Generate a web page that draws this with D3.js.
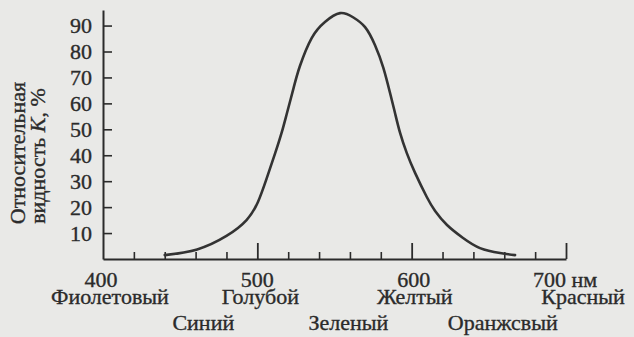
<!DOCTYPE html>
<html>
<head>
<meta charset="utf-8">
<script src="https://cdn.jsdelivr.net/npm/d3@7"></script>
<style>
  body { margin: 0; background: #e9e9e7; }
  svg text { font-family: "Liberation Serif", "DejaVu Serif", serif; fill: #2b2b2b; stroke: #2b2b2b; stroke-width: 0.35px; }
</style>
</head>
<body>
<div id="chart"></div>
<script>
// curve: wavelength (nm) -> relative visibility K (%)
var wavelengths = [440, 461, 480, 493, 500.4, 506, 511.4, 515.8, 519, 523.3, 527.6, 535.2, 543.8, 553.6,
                   562, 569.8, 576.2, 581.6, 586, 589.2, 592.5, 596.8, 602.2, 609.8, 615.2, 622.9,
                   633.3, 644.3, 657.3, 667];
var visibility  = [1.5, 3.7, 8.9, 15, 22, 31, 40.5, 48.8, 55.8, 65.5, 74.4, 85.2, 91.4, 94.8,
                   93.2, 89.4, 82.5, 73.8, 64, 56.3, 48.6, 40.9, 33.2, 23.9, 18.5, 13.1,
                   8.1, 4.2, 2.3, 1.5];

var yTicks = [10, 20, 30, 40, 50, 60, 70, 80, 90];
var xMinorTicks = [420, 440, 460, 480, 520, 540, 560, 580, 620, 640, 660, 680];
var xMajorTicks = [500, 600, 700];
var xLabels = [400, 500, 600];

var colourNames = ["Фиолетовый", "Голубой", "Желтый", "Красный", "Синий", "Зеленый", "Оранжсвый"];
var colourNm    = [404.5, 502, 602, 711, 465, 559, 659];
var colourRow   = [1, 1, 1, 1, 2, 2, 2];

var width = 634;
var height = 337;

var svg = d3.select("#chart")
  .append("svg")
  .attr("width", width)
  .attr("height", height);

var xScale = d3.scaleLinear()
  .domain([400, 700])
  .range([103, 566]);

var yScale = d3.scaleLinear()
  .domain([0, 96])
  .range([259, 10]);

var ink = "#2b2b2b";

// y axis, ticks pointing into the plot
var yAxis = svg.append("g")
  .attr("transform", `translate(${xScale(400)},0)`)
  .call(d3.axisLeft(yScale).tickValues(yTicks).tickSize(-9).tickPadding(11).tickSizeOuter(0));
yAxis.select(".domain").attr("stroke", ink).attr("stroke-width", 2);
yAxis.selectAll(".tick line").attr("stroke", ink).attr("stroke-width", 1.6);
yAxis.selectAll(".tick text").attr("font-size", 22).attr("font-family", null).attr("fill", ink);

// x axis, small ticks every 20 nm, long ticks at the hundreds
var xMinor = svg.append("g")
  .attr("transform", `translate(0,${yScale(0)})`)
  .call(d3.axisBottom(xScale).tickValues(xMinorTicks).tickSize(-7).tickFormat("").tickSizeOuter(0));
xMinor.select(".domain").attr("stroke", ink).attr("stroke-width", 2);
xMinor.selectAll(".tick line").attr("stroke", ink).attr("stroke-width", 1.6);

var xMajor = svg.append("g")
  .attr("transform", `translate(0,${yScale(0)})`)
  .call(d3.axisBottom(xScale).tickValues(xMajorTicks).tickSize(-16).tickFormat("").tickSizeOuter(0));
xMajor.select(".domain").remove();
xMajor.selectAll(".tick line").attr("stroke", ink).attr("stroke-width", 1.8);

svg.selectAll(".xlabel")
  .data(xLabels)
  .enter()
  .append("text")
    .attr("class", "xlabel")
    .attr("x", function(d) { return xScale(d) + (d - 400) / 50 - 2; })
    .attr("y", 287)
    .attr("text-anchor", "middle")
    .attr("font-size", 22)
    .text(function(d) { return d; });

svg.append("text")
  .attr("x", xScale(700) - 33)
  .attr("y", 287)
  .attr("font-size", 22)
  .text("700 нм");

svg.selectAll(".colour")
  .data(colourNames)
  .enter()
  .append("text")
    .attr("class", "colour")
    .attr("x", function(d, i) { return xScale(colourNm[i]); })
    .attr("y", function(d, i) { return colourRow[i] === 1 ? 304 : 330; })
    .attr("text-anchor", "middle")
    .attr("font-size", 22)
    .text(function(d) { return d; });

// y axis title, two rotated lines
var yTitle = svg.append("text")
  .attr("transform", "rotate(-90)")
  .attr("text-anchor", "middle")
  .attr("font-size", 22);
yTitle.append("tspan")
  .attr("x", -153)
  .attr("y", 25)
  .text("Относительная");
var line2 = yTitle.append("tspan")
  .attr("x", -156)
  .attr("y", 45);
line2.append("tspan").text("видность ");
line2.append("tspan").attr("font-style", "italic").text("K");
line2.append("tspan").text(", %");

// the curve
var points = wavelengths.map(function(w, i) { return [w, visibility[i]]; });

var line = d3.line()
  .x(function(d) { return xScale(d[0]); })
  .y(function(d) { return yScale(d[1]); })
  .curve(d3.curveNatural);

svg.append("path")
  .datum(points)
  .attr("d", line)
  .attr("fill", "none")
  .attr("stroke", "#333")
  .attr("stroke-width", 2.6)
  .attr("stroke-linecap", "round");
</script>
</body>
</html>
